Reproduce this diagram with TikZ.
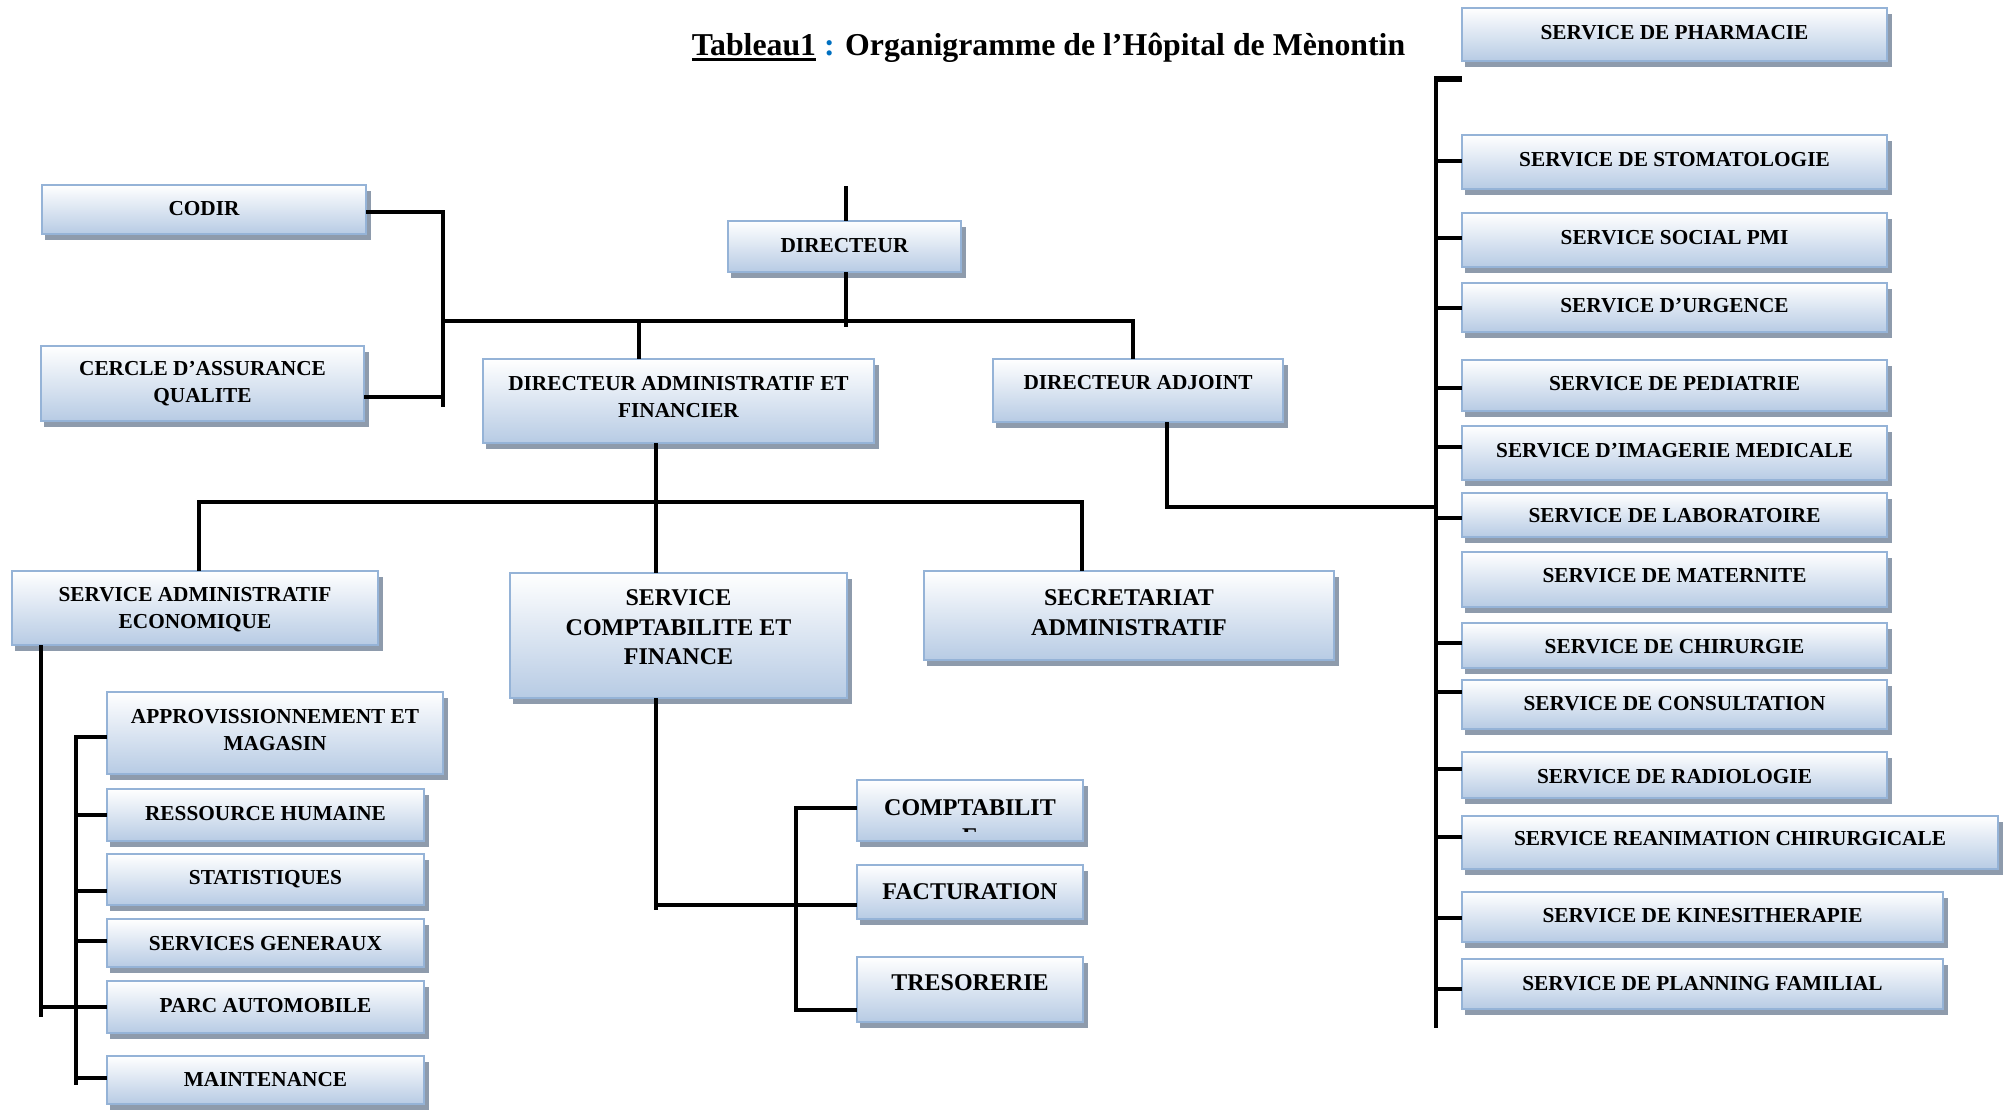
\documentclass[tikz,border=0pt]{standalone}
\usepackage{fontspec}
\setmainfont{Liberation Serif}
\usetikzlibrary{calc}
\definecolor{bordc}{RGB}{149,179,215}
\definecolor{botc}{RGB}{183,203,228}
\definecolor{shadc}{RGB}{142,155,172}
\definecolor{titleblue}{RGB}{0,112,192}
\newcommand\thickul[1]{\leavevmode\vtop{\hbox{#1}\kern2.2pt\hrule height 3.5pt}}
\tikzset{
  conn/.style={line width=3.4pt, black},
  obox/.style={draw=bordc, line width=2pt, top color=white, bottom color=botc, inner sep=0pt, outer sep=0pt},
  sm/.style={font=\bfseries\fontsize{21.3}{27}\selectfont, align=center, inner sep=0pt},
  lg/.style={font=\bfseries\fontsize{24}{29.5}\selectfont, align=center, inner sep=0pt},
}
\newcommand\orgbox[5]{%
  \fill[shadc] (#2+3,#3+6) rectangle (#4+5,#5+6);
  \pgfmathsetmacro\bw{#4-#2}\pgfmathsetmacro\bh{#5-#3}%
  \node[obox, minimum width=\bw pt, minimum height=\bh pt] (#1) at ({(#2+#4)/2},{(#3+#5)/2}) {};
}
\begin{document}
\begin{tikzpicture}[x=1pt,y=-1pt]
\useasboundingbox (0,0) rectangle (2004,1111);
\fill[white] (0,0) rectangle (2004,1111);

% title
\node[anchor=base, font=\bfseries\fontsize{31.8}{38}\selectfont, inner sep=0pt] (title) at (1048.5,55)
  {\thickul{Tableau1} \textcolor{titleblue}{:} Organigramme de l’Hôpital de Mènontin};

% boxes
\orgbox{codir}{42}{185}{366}{234}
\orgbox{cercle}{41}{346}{364}{421}
\orgbox{directeur}{728}{221}{961}{272}
\orgbox{daf}{483}{359}{874}{443}
\orgbox{da}{993}{359}{1283}{422}
\orgbox{sae}{12}{571}{378}{645}
\orgbox{scf}{510}{573}{847}{698}
\orgbox{sec}{924}{571}{1334}{660}
\orgbox{appro}{107}{692}{443}{774}
\orgbox{rh}{107}{789}{424}{841}
\orgbox{stat}{107}{854}{424}{905}
\orgbox{sg}{107}{919}{424}{967}
\orgbox{parc}{107}{981}{424}{1033}
\orgbox{maint}{107}{1056}{424}{1104}
\orgbox{compta}{857}{780}{1083}{841}
\orgbox{fact}{857}{865}{1083}{919}
\orgbox{treso}{857}{957}{1083}{1022}
\orgbox{pharma}{1462}{8}{1887}{61}
\orgbox{stoma}{1462}{135}{1887}{189}
\orgbox{social}{1462}{213}{1887}{267}
\orgbox{urgence}{1462}{283}{1887}{332}
\orgbox{pedia}{1462}{360}{1887}{411}
\orgbox{imag}{1462}{426}{1887}{480}
\orgbox{labo}{1462}{493}{1887}{537}
\orgbox{mater}{1462}{552}{1887}{607}
\orgbox{chir}{1462}{623}{1887}{668}
\orgbox{consult}{1462}{680}{1887}{729}
\orgbox{radio}{1462}{752}{1887}{798}
\orgbox{reanim}{1462}{816}{1998}{869}
\orgbox{kine}{1462}{892}{1943}{942}
\orgbox{planning}{1462}{959}{1943}{1009}

% texts
\node[sm] (codir-t) at (codir |- 0,209) {CODIR};
\node[sm] (cercle-t) at (cercle |- 0,383.5) {CERCLE D’ASSURANCE\\QUALITE};
\node[sm] (directeur-t) at (directeur |- 0,246) {DIRECTEUR};
\node[sm] (daf-t) at (daf |- 0,397) {DIRECTEUR ADMINISTRATIF ET\\FINANCIER};
\node[sm] (da-t) at (da |- 0,383) {DIRECTEUR ADJOINT};
\node[sm] (sae-t) at (sae |- 0,609.5) {SERVICE ADMINISTRATIF\\ECONOMIQUE};
\node[lg] (scf-t) at (scf |- 0,627.5) {SERVICE\\COMPTABILITE ET\\FINANCE};
\node[lg] (sec-t) at (sec |- 0,612.5) {SECRETARIAT\\ADMINISTRATIF};
\node[sm] (appro-t) at (appro |- 0,730) {APPROVISSIONNEMENT ET\\MAGASIN};
\node[sm] (rh-t) at (rh |- 0,814) {RESSOURCE HUMAINE};
\node[sm] (stat-t) at (stat |- 0,879) {STATISTIQUES};
\node[sm] (sg-t) at (sg |- 0,944) {SERVICES GENERAUX};
\node[sm] (parc-t) at (parc |- 0,1006) {PARC AUTOMOBILE};
\node[sm] (maint-t) at (maint |- 0,1080) {MAINTENANCE};
\node[lg] (compta-t) at (compta |- 0,807.5) {COMPTABILIT};
\begin{scope}
  \clip (857,780) rectangle (1083,831);
  \node[lg] (compta-e) at (compta |- 0,837) {E};
\end{scope}
\node[lg] (fact-t) at (fact |- 0,891.5) {FACTURATION};
\node[lg] (treso-t) at (treso |- 0,982.5) {TRESORERIE};
\node[sm] (pharma-t) at (pharma |- 0,32.5) {SERVICE DE PHARMACIE};
\node[sm] (stoma-t) at (stoma |- 0,160) {SERVICE DE STOMATOLOGIE};
\node[sm] (social-t) at (social |- 0,238) {SERVICE SOCIAL PMI};
\node[sm] (urgence-t) at (urgence |- 0,306) {SERVICE D’URGENCE};
\node[sm] (pedia-t) at (pedia |- 0,384) {SERVICE DE PEDIATRIE};
\node[sm] (imag-t) at (imag |- 0,451) {SERVICE D’IMAGERIE MEDICALE};
\node[sm] (labo-t) at (labo |- 0,516) {SERVICE DE LABORATOIRE};
\node[sm] (mater-t) at (mater |- 0,576) {SERVICE DE MATERNITE};
\node[sm] (chir-t) at (chir |- 0,647) {SERVICE DE CHIRURGIE};
\node[sm] (consult-t) at (consult |- 0,704) {SERVICE DE CONSULTATION};
\node[sm] (radio-t) at (radio |- 0,777) {SERVICE DE RADIOLOGIE};
\node[sm] (reanim-t) at (reanim |- 0,839) {SERVICE REANIMATION CHIRURGICALE};
\node[sm] (kine-t) at (kine |- 0,916) {SERVICE DE KINESITHERAPIE};
\node[sm] (planning-t) at (planning |- 0,984) {SERVICE DE PLANNING FAMILIAL};

% connectors
\coordinate (dtop) at (846,186);
\coordinate (dbot) at (846,327);
\coordinate (busL) at (443,321);
\coordinate (busR) at (1133,321);
\coordinate (cvbot) at (443,407);
\draw[conn] (dtop) -- (dtop |- directeur.north);
\draw[conn] (dtop |- directeur.south) -- (dbot);
\draw[conn] (codir.east |- 0,212) -- (443,212) -- (cvbot);
\draw[conn] (cercle.east |- 0,397) -- (cvbot |- 0,397);
\draw[conn] (busL) -- (busR) -- (busR |- da.north);
\draw[conn] (639,321) -- (daf.north -| 639,0);

\coordinate (bus2L) at (199,502);
\coordinate (bus2R) at (1082,502);
\draw[conn] (daf.south -| 656,0) -- (scf.north -| 656,0);
\draw[conn] (sae.north -| bus2L) -- (bus2L) -- (bus2R) -- (sec.north -| bus2R);

\coordinate (spTop) at (1436,77);
\coordinate (spBot) at (1436,1028);
\coordinate (stub) at (1462,79);
\draw[conn] (da.south -| 1167,0) -- (1167,507) -- (spTop |- 0,507);
\draw[conn] (spTop) -- (spBot);
\draw[line width=5.5pt] (1434.3,79) -- (stub);
\foreach \n/\yy in {stoma/161, social/238, urgence/308, pedia/388, imag/447, labo/518,
  chir/643, consult/692, radio/769, reanim/837, kine/918, planning/989}
  \draw[conn] (spTop |- 0,\yy) -- (\n.west |- 0,\yy);

% left subtree
\draw[conn] (sae.south -| 41,0) -- (41,1017);
\draw[conn] (41,1007) -- (parc.west |- 0,1007);
\draw[conn] (appro.west |- 0,737) -- (76,737) -- (76,1085);
\foreach \n/\yy in {rh/815, stat/891, sg/941, parc/1007, maint/1078}
  \draw[conn] (76,\yy) -- (\n.west |- 0,\yy);

% finance subtree
\draw[conn] (scf.south -| 656,0) -- (656,910);
\draw[conn] (656,905) -- (fact.west |- 0,905);
\draw[conn] (compta.west |- 0,808) -- (796,808) -- (796,1010) -- (treso.west |- 0,1010);
\end{tikzpicture}
\end{document}
